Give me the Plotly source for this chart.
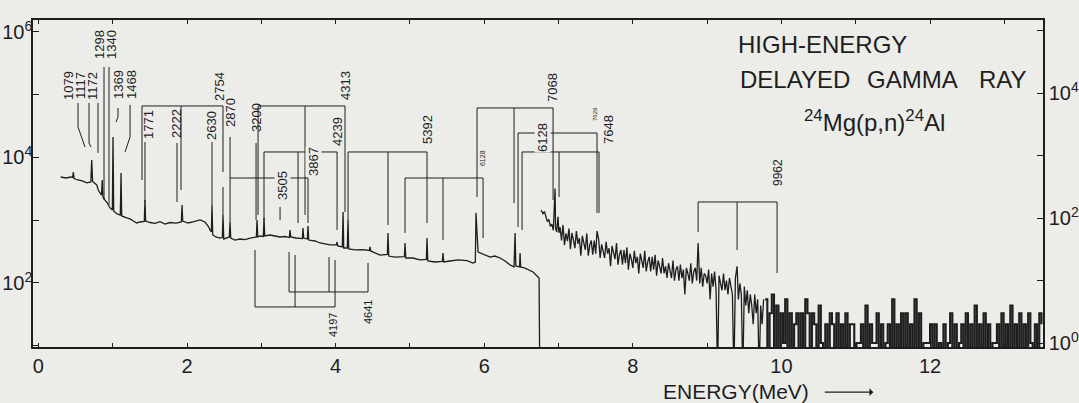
import plotly.graph_objects as go

# ---------------- spectrum, low-energy part (left axis, counts) ----------------
E1 = [0.30, 0.37, 0.44, 0.46, 0.47, 0.48, 0.53, 0.59, 0.65, 0.705, 0.717, 0.729, 0.785, 0.806,
      0.829, 0.849, 0.859, 0.868, 0.896, 0.927, 0.964, 0.995, 1.004, 1.013, 1.058, 1.102, 1.112,
      1.121, 1.188, 1.233, 1.277, 1.323, 1.367, 1.425, 1.434, 1.443, 1.502, 1.569, 1.637, 1.704,
      1.771, 1.852, 1.923, 1.933, 1.942, 2.013, 2.094, 2.175, 2.242, 2.283, 2.310, 2.327, 2.336,
      2.346, 2.390, 2.444, 2.475, 2.484, 2.494, 2.538, 2.569, 2.579, 2.588, 2.646, 2.713, 2.781,
      2.848, 2.933, 2.942, 2.952, 2.982, 3.027, 3.036, 3.046, 3.117, 3.184, 3.252, 3.319, 3.377,
      3.386, 3.396, 3.467, 3.552, 3.561, 3.570, 3.619, 3.628, 3.638, 3.723, 3.790, 3.857, 3.925,
      4.009, 4.019, 4.028, 4.090, 4.100, 4.109, 4.157, 4.167, 4.176, 4.261, 4.369, 4.454, 4.463,
      4.472, 4.530, 4.598, 4.696, 4.705, 4.715, 4.799, 4.925, 4.934, 4.944, 5.042, 5.136, 5.221,
      5.230, 5.240, 5.338, 5.436, 5.445, 5.455, 5.540, 5.648, 5.768, 5.849, 5.880, 5.889, 5.917,
      5.984, 6.078, 6.145, 6.213, 6.280, 6.347, 6.401, 6.415, 6.425, 6.475, 6.482, 6.491, 6.549,
      6.617, 6.657, 6.697, 6.738, 6.752]
C1 = [4890, 4710, 4890, 4800, 5870, 4620, 4380, 4230, 3930, 4070, 9120, 4150, 3650, 3030,
      2720, 2520, 4380, 2350, 2100, 1880, 1570, 1460, 21200, 1410, 1260, 1210, 5660,
      1170, 1090, 1050, 973, 904, 938, 960, 2100, 973, 920, 890, 950, 871,
      920, 900, 938, 1750, 973, 904, 950, 1010, 938, 809, 700, 650, 1750,
      582, 541, 521, 530, 1210, 502, 521, 541, 938, 521, 484, 502, 490,
      521, 541, 1010, 541, 561, 552, 1090, 561, 582, 561, 541, 550, 530,
      700, 541, 521, 510, 753, 521, 502, 809, 484, 467, 434, 419, 404,
      404, 450, 389, 375, 1355, 361, 361, 1010, 348, 336, 340, 330, 375,
      324, 301, 279, 285, 627, 269, 259, 262, 434, 250, 250, 233, 238,
      521, 224, 216, 220, 301, 216, 224, 233, 228, 208, 216, 1310, 312,
      290, 259, 269, 250, 224, 194, 180, 627, 187, 180, 301, 180, 173,
      161, 150, 134, 120, 0]

# ---------------- spectrum, high-energy part (right axis, counts) ----------------
E2 = [6.765, 6.79, 6.81, 6.83, 6.85, 6.87, 6.89, 6.91, 6.93, 6.953, 6.96, 6.975, 6.993, 7.005,
      7.02, 7.04, 7.06, 7.08, 7.10, 7.12, 7.14, 7.16, 7.18, 7.20,
      7.22, 7.24, 7.26, 7.28, 7.30, 7.32, 7.34, 7.36, 7.38, 7.40,
      7.42, 7.44, 7.46, 7.48, 7.50, 7.518, 7.54, 7.56, 7.58, 7.60,
      7.62, 7.64, 7.66, 7.68, 7.70, 7.72, 7.74, 7.76, 7.78, 7.80,
      7.82, 7.84, 7.86, 7.88, 7.90, 7.92, 7.94, 7.96, 7.98, 8.00,
      8.02, 8.04, 8.06, 8.08, 8.10, 8.12, 8.14, 8.16, 8.18, 8.20,
      8.22, 8.24, 8.26, 8.28, 8.30, 8.32, 8.34, 8.36, 8.38, 8.40,
      8.42, 8.44, 8.46, 8.48, 8.50, 8.52, 8.54, 8.56, 8.58, 8.60,
      8.62, 8.64, 8.66, 8.68, 8.70, 8.72, 8.74, 8.76, 8.78, 8.80,
      8.82, 8.84, 8.86, 8.878, 8.90, 8.92, 8.94, 8.96, 8.98, 9.00,
      9.02, 9.04, 9.06, 9.08, 9.10, 9.12, 9.14, 9.16, 9.18, 9.20,
      9.22, 9.24, 9.26, 9.28, 9.30, 9.32, 9.34, 9.36, 9.38, 9.403,
      9.42, 9.44, 9.46, 9.48, 9.50, 9.52, 9.54, 9.56, 9.58, 9.60,
      9.62, 9.64, 9.66, 9.68, 9.70, 9.72, 9.74, 9.76]
C2 = [135, 118, 128, 100, 88, 96, 74, 80, 64, 300, 70, 60, 105, 58,
      72, 44, 78, 37, 57, 43, 68, 32, 58, 45,
      33, 62, 39, 48, 25, 52, 38, 31, 57, 25,
      37, 44, 26, 44, 27, 62, 46, 23, 38, 31,
      23, 42, 27, 33, 17, 36, 26, 22, 40, 18,
      26, 31, 18, 31, 19, 34, 15, 27, 22, 16,
      30, 19, 24, 13, 27, 20, 16, 30, 14, 20,
      24, 14, 24, 15, 26, 12, 21, 17, 13, 23,
      13, 17, 11, 19, 15, 11, 21, 10, 15, 17,
      10, 18, 11, 15, 6, 16, 13, 10, 19, 9,
      14, 16, 10, 40, 9, 16, 8, 13, 12, 9,
      15, 5, 13, 8, 14, 7, 0, 12, 9, 7,
      13, 7, 10, 6, 11, 8, 6, 0, 11, 17,
      5, 9, 6, 0, 8, 4, 7, 3, 6, 4,
      2, 6, 3, 5, 0, 4, 2, 5]

E3 = [9.78, 9.81, 9.84, 9.87, 9.90, 9.93, 9.96, 9.99, 10.02, 10.05,
      10.08, 10.11, 10.14, 10.17, 10.20, 10.23, 10.26, 10.29, 10.32, 10.35,
      10.38, 10.41, 10.44, 10.47, 10.50, 10.53, 10.56, 10.59, 10.62, 10.65,
      10.68, 10.71, 10.74, 10.77, 10.80, 10.83, 10.86, 10.89, 10.92, 10.95,
      10.98, 11.01, 11.04, 11.07, 11.10, 11.13, 11.16, 11.19, 11.22, 11.25,
      11.28, 11.31, 11.34, 11.37, 11.40, 11.43, 11.46, 11.49, 11.52, 11.55,
      11.58, 11.61, 11.64, 11.67, 11.70, 11.73, 11.76, 11.79, 11.82, 11.85,
      11.88, 11.91, 11.94, 11.97, 12.00, 12.03, 12.06, 12.09, 12.12, 12.15,
      12.18, 12.21, 12.24, 12.27, 12.30, 12.33, 12.36, 12.39, 12.42, 12.45,
      12.48, 12.51, 12.54, 12.57, 12.60, 12.63, 12.66, 12.69, 12.72, 12.75,
      12.78, 12.81, 12.84, 12.87, 12.90, 12.93, 12.96, 12.99, 13.02, 13.05,
      13.08, 13.11, 13.14, 13.17, 13.20, 13.23, 13.26, 13.29, 13.32, 13.35,
      13.38, 13.41, 13.44, 13.47, 13.50]
C3 = [5, 0, 3, 6, 0, 4, 0, 3, 1, 5,
      0, 3, 0, 2, 3, 0, 3, 0, 5, 3,
      0, 3, 2, 0, 4, 1, 0, 2, 0, 3,
      2, 0, 3, 0, 2, 0, 3, 0, 2, 2,
      0, 1, 1, 2, 0, 4, 0, 2, 1, 1,
      3, 0, 2, 0, 1, 2, 0, 5, 0, 2,
      0, 3, 0, 3, 0, 2, 0, 5, 0, 3,
      0, 1, 1, 1, 2, 0, 2, 0, 1, 0,
      2, 0, 1, 3, 0, 2, 0, 1, 2, 0,
      3, 0, 2, 0, 4, 0, 2, 0, 3, 0,
      2, 0, 1, 1, 2, 0, 3, 0, 2, 0,
      4, 0, 2, 0, 3, 0, 2, 0, 3, 1,
      0, 2, 0, 3, 2]

# ---------------- escape-peak brackets (energy, log10 counts on left axis) ----------------
BRACKET_LEVELS = [4.821, 4.821, 4.088, 3.673, 4.088, 3.673, 4.789, 4.390, 4.088, 3.291, 1.618, 1.857]
BRACKET_X = [[1.394, 1.919, 2.484], [2.956, 3.588, 4.126], [3.036, 3.494, 4.019], [2.579, 3.628],
             [4.167, 4.705, 5.230], [4.934, 5.445, 5.984], [5.903, 6.401, 6.926], [6.455, 7.518],
             [6.509, 7.007, 7.545], [8.878, 9.403, 9.941], [2.915, 3.454, 3.992], [3.373, 3.911, 4.436]]
BRACKET_ENDS = [[3.641, 3.482, 3.769], [3.084, 3.084, 3.132], [3.004, 2.956, 2.845], [3.673, 2.956],
                [3.004, 2.924, 2.956], [2.797, 2.685, 2.717], [3.371, 3.275, 3.323], [2.893, 3.116],
                [2.845, 3.371, 3.116], [2.813, 2.526, 2.159], [2.526, 2.446, 2.367], [2.494, 2.414, 2.319]]

# leader lines from the labels down to the peaks
LEADER_X = [[0.533, 0.533, 0.627], [0.681, 0.681, 0.707], [0.802, 0.802], [0.883, 0.883],
            [0.950, 0.950], [1.071, 1.071, 1.044], [1.233, 1.233, 1.166], [1.434, 1.434],
            [1.865, 1.865], [2.336, 2.336], [2.484, 2.484], [2.579, 2.579], [2.929, 2.929],
            [3.252, 3.252]]
LEADER_Y = [[4.869, 4.486, 4.167], [4.869, 4.231, 4.167], [4.869, 4.072], [5.442, 3.323],
            [5.442, 3.243], [4.789, 4.645, 4.566], [4.837, 4.327, 4.088], [4.247, 3.291],
            [4.231, 3.291], [4.247, 3.243], [3.530, 3.084], [4.327, 2.972], [4.231, 3.004],
            [3.211, 3.004]]

# peak labels (keV): text, energy, log10 counts (left axis), font size, masks line
LABEL_TEXT = ["1079", "1117", "1172", "1298", "1340", "1369", "1468", "1771", "2222", "2630",
              "2754", "2870", "3200", "3505", "3867", "4239", "4313", "5392", "6128", "7068",
              "6128", "7629", "7648", "9962", "4197", "4641"]
LABEL_E = [0.398, 0.560, 0.721, 0.829, 0.991, 1.071, 1.246, 1.488, 1.865, 2.336,
           2.444, 2.579, 2.942, 3.292, 3.696, 4.019, 4.126, 5.230, 5.984, 6.926,
           6.792, 7.491, 7.666, 9.954, 3.965, 4.436]
LABEL_Y = [5.139, 5.139, 5.139, 5.793, 5.793, 5.155, 5.155, 4.534, 4.534, 4.502,
           5.124, 4.709, 4.630, 3.546, 3.928, 4.406, 5.139, 4.438, 3.992, 5.108,
           4.311, 4.693, 4.438, 3.753, 1.331, 1.538]
LABEL_SIZE = [13, 13, 13, 13, 13, 13, 13, 13, 13, 13,
              13, 13, 13, 13, 13, 13, 13, 13, 7, 13,
              13, 6, 13, 12, 11, 11]
LABEL_MASK = [0, 0, 0, 0, 0, 0, 0, 0, 0, 0,
              0, 0, 0, 1, 1, 0, 0, 0, 0, 0,
              1, 0, 0, 0, 0, 0]

BG = "#ecece9"
INK = "#1e1e1e"
FONT = "Liberation Sans"

fig = go.Figure()

# spectrum traces (zero counts drop below the axis floor)
fig.add_trace(go.Scatter(x=E1, y=[c if c > 0 else 0.5 for c in C1], mode="lines",
                         line=dict(color=INK, width=1.3), yaxis="y", hoverinfo="skip"))
fig.add_trace(go.Scatter(x=E2, y=[c if c > 0 else 0.3 for c in C2], mode="lines",
                         line=dict(color=INK, width=1.3), yaxis="y2", hoverinfo="skip"))
fig.add_trace(go.Scatter(x=E3, y=[c if c > 0 else 0.3 for c in C3], mode="lines",
                         line=dict(color=INK, width=2.1, shape="hv"), yaxis="y2", hoverinfo="skip"))

# brackets
bx, by = [], []
for lvl, xs, ends in zip(BRACKET_LEVELS, BRACKET_X, BRACKET_ENDS):
    bx += [min(xs), max(xs), None]
    by += [10 ** lvl, 10 ** lvl, None]
    for x, e in zip(xs, ends):
        bx += [x, x, None]
        by += [10 ** lvl, 10 ** e, None]
for xs, ys in zip(LEADER_X, LEADER_Y):
    bx += xs + [None]
    by += [10 ** v for v in ys] + [None]
fig.add_trace(go.Scatter(x=bx, y=by, mode="lines", line=dict(color=INK, width=1.0),
                         yaxis="y", hoverinfo="skip"))

for t, e, l, s, m in zip(LABEL_TEXT, LABEL_E, LABEL_Y, LABEL_SIZE, LABEL_MASK):
    fig.add_annotation(x=e, y=l, xref="x", yref="y", text=t, textangle=-90, showarrow=False,
                       xanchor="center", yanchor="middle",
                       font=dict(family=FONT, size=s, color=INK),
                       bgcolor=BG if m else "rgba(0,0,0,0)", borderpad=0)

# title block
tfont = dict(family=FONT, size=24, color=INK)
def note(x, y, text, font):
    fig.add_annotation(x=x, y=y, xref="paper", yref="paper", text=text, showarrow=False,
                       xanchor="center", yanchor="middle", font=font)

note(0.782, 0.924, "HIGH-ENERGY", tfont)
note(0.754, 0.818, "DELAYED", tfont)
note(0.871, 0.818, "GAMMA", tfont)
note(0.960, 0.818, "RAY", tfont)
note(0.833, 0.690, "<sup>24</sup>Mg(p,n)<sup>24</sup>Al", tfont)
note(0.696, -0.135, "ENERGY(MeV)", dict(family=FONT, size=21, color=INK))
fig.add_annotation(x=0.832, y=-0.138, xref="paper", yref="paper", text="", ax=-50, ay=0,
                   axref="pixel", ayref="pixel", showarrow=True, arrowhead=1, arrowsize=1,
                   arrowwidth=1.3, arrowcolor=INK)

xt = list(range(0, 14))
fig.update_layout(
    width=1079, height=403, paper_bgcolor=BG, plot_bgcolor=BG, showlegend=False,
    margin=dict(l=33, r=36, t=20, b=56, autoexpand=False),
    xaxis=dict(range=[-0.073, 13.52], tickvals=xt, automargin=False,
               ticktext=[str(v) if v % 2 == 0 else "" for v in xt],
               ticks="inside", ticklen=4, tickcolor=INK, showline=True, linecolor=INK,
               linewidth=1.5, mirror="ticks", showgrid=False, zeroline=False,
               tickfont=dict(family=FONT, size=20, color=INK)),
    yaxis=dict(type="log", range=[0.98, 6.191], automargin=False,
               tickvals=[10, 100, 1e3, 1e4, 1e5, 1e6],
               ticktext=["", "10<sup>2</sup>", "", "10<sup>4</sup>", "", "10<sup>6</sup>"],
               ticks="inside", ticklen=6, tickcolor=INK, showline=True, linecolor=INK,
               linewidth=1.5, showgrid=False, zeroline=False, ticklabelstandoff=-5,
               tickfont=dict(family=FONT, size=20, color=INK)),
    yaxis2=dict(type="log", range=[-0.064, 5.176], overlaying="y", side="right",
                automargin=False,
                tickvals=[1, 10, 100, 1e3, 1e4, 1e5],
                ticktext=["10<sup>0</sup>", "", "10<sup>2</sup>", "", "10<sup>4</sup>", ""],
                ticks="inside", ticklen=6, tickcolor=INK, showline=True, linecolor=INK,
                linewidth=1.5, showgrid=False, zeroline=False,
                tickfont=dict(family=FONT, size=20, color=INK)),
)

fig.write_html("out.html", config={"displayModeBar": False},
               post_script="document.body.style.margin='0px';"
                           "document.body.style.background='#ecece9';")
